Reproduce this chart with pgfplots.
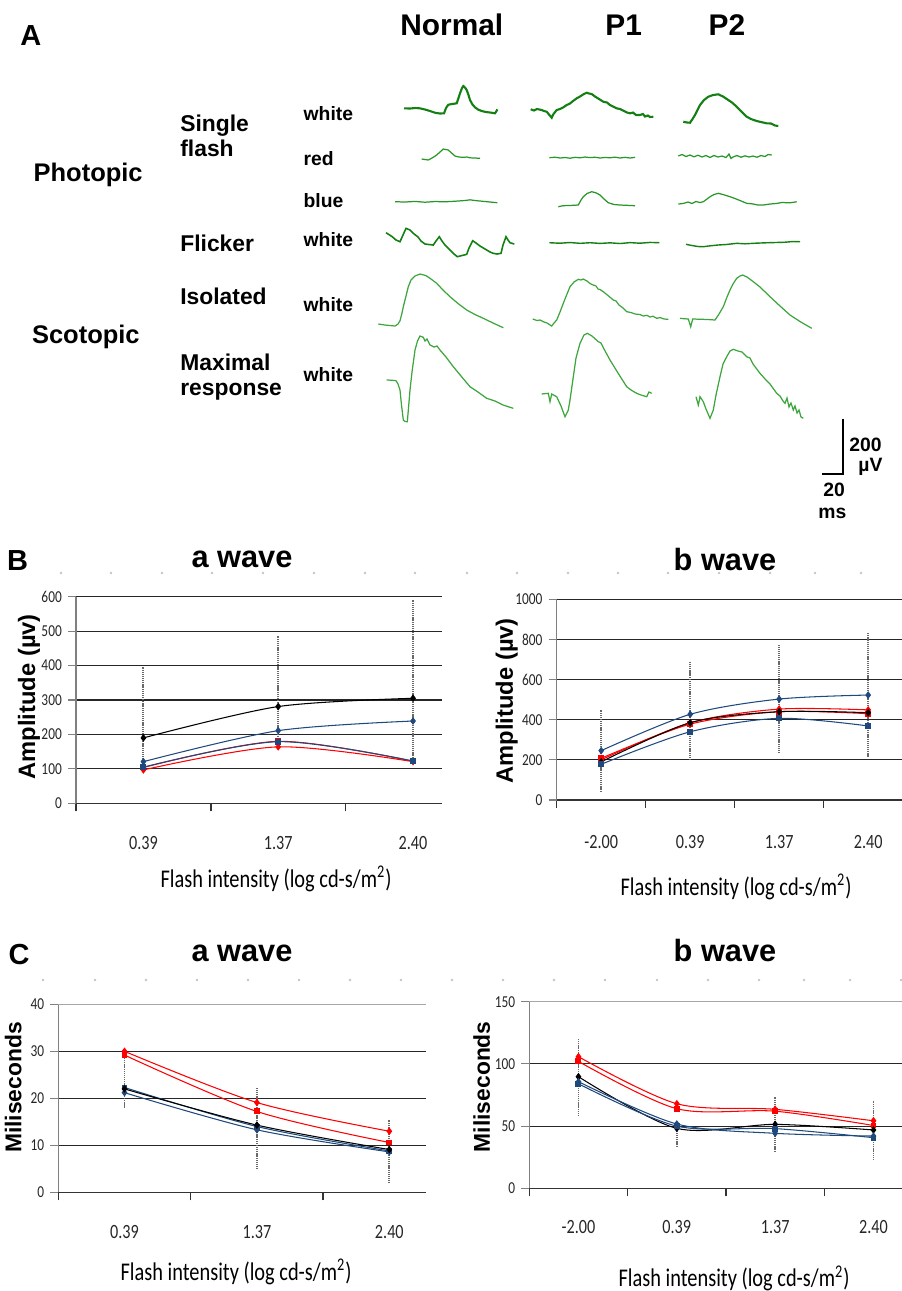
\documentclass[border=0pt]{standalone}
\usepackage{pgfplots}
\pgfplotsset{compat=1.18}
\usepackage{fontspec}
\setmainfont{Liberation Sans}
\newfontfamily\cbr[FakeStretch=0.8]{Carlito}

\definecolor{ergA}{RGB}{20,128,20}
\definecolor{ergB}{RGB}{40,150,40}
\definecolor{ergC}{RGB}{60,165,60}
\definecolor{xlblue}{RGB}{31,73,125}
\definecolor{barg}{RGB}{105,105,105}

\pgfplotsset{
  chart/.style={
    scale only axis,
    axis x line*=bottom, axis y line*=left,
    x axis line style={-, line width=0.8pt, black!80},
    y axis line style={-, line width=0.6pt, gray},
    ymajorgrids, grid style={black!85, line width=0.6pt},
    tick align=outside, major tick length=0.16cm,
    ytick style={gray, line width=0.6pt},
    xtick style={black!80, line width=0.8pt},
    xticklabels={},
    extra x tick style={major tick length=0pt, xtick style={draw=none},
      xticklabel style={anchor=center, font=\cbr\fontsize{11.5}{13}\selectfont, black!85}},
    yticklabel style={font=\cbr\fontsize{9.5}{11}\selectfont, black!85},
    /pgf/number format/assume math mode=true,
    /pgf/number format/1000 sep={},
  },
  sblk/.style={black, mark=diamond*, mark size=1.7pt, line width=0.6pt, smooth},
  sbd/.style={xlblue, mark=diamond*, mark size=1.7pt, line width=0.6pt, smooth},
  sbs/.style={xlblue, mark=square*, mark size=1.4pt, line width=0.6pt, smooth},
  srd/.style={red, mark=diamond*, mark size=1.7pt, line width=0.6pt, smooth},
  srs/.style={red, mark=square*, mark size=1.4pt, line width=0.6pt, smooth},
  serr/.style={barg, line width=1.1pt, dash pattern=on 0.7pt off 0.5pt, mark=none},
}

\begin{document}
\begin{tikzpicture}
\useasboundingbox (0,0) rectangle (18.04cm,-25.82cm);

% ---------- panel A: ERG traces, drawn in pixel units ----------
\begin{axis}[at={(0cm,0cm)}, anchor=north west, scale only axis,
  width=18.04cm, height=25.82cm, xmin=0, xmax=902, ymin=0, ymax=1291,
  y dir=reverse, hide axis, clip=false]

% photopic white
\addplot[ergA, line width=1.2pt, mark=none] coordinates {(404,108.3) (410,108.5) (415,108) (420,108.3) (425,109.5) (430,111) (435,112.7) (440,113.5) (444,113.3) (446,108) (448.3,104.7) (452,104) (456.7,103.3) (458.5,98) (460,93.3) (462,88) (463.3,86) (465,87.5) (466.7,90) (468.5,95) (470,100) (472.5,104.5) (475,107.3) (478,109.5) (481.7,111) (486,112) (491.7,112.7) (495,113.3) (496.5,111) (497.3,109.3)};
\addplot[ergA, line width=1.2pt, mark=none] coordinates {(530.7,109.3) (534,110.5) (537,109) (541.7,110) (544,111) (546.7,111.7) (549,114.5) (551.7,117.7) (553.5,114) (556.7,110) (560,109) (563,107.5) (566.7,105) (570,103.5) (573,101) (576.7,98.3) (580,96.5) (583,94.5) (586.7,92.7) (589,93.5) (591.7,94) (595,96.5) (599,99) (603.3,101.7) (607,102.5) (610,105) (613,106.5) (616.7,108.3) (620,109) (624,111) (627,112.5) (630,113.3) (633,112.5) (636,115) (640,115) (643,114) (645,116.5) (648,115.5) (650,117) (653.3,116.7)};
\addplot[ergA, line width=1.2pt, mark=none] coordinates {(683.3,121.7) (687,122.5) (690,122.7) (692.5,119) (695,115) (697.5,110) (700,105) (704,100) (708.3,96.7) (713,95) (718.3,94.3) (723,96.5) (728.3,100) (732,102.5) (736.7,106.7) (741,111) (746.7,116.7) (751,119) (756.7,121) (761,122) (766.7,123.3) (771,123.5) (775,125.5) (778.3,126)};
% photopic red
\addplot[ergB, line width=0.7pt, mark=none] coordinates {(421.7,159) (425,159.5) (428.3,160) (432,158) (436.7,155) (440,152) (443.3,149) (446,149.5) (448.3,150) (451,152.5) (455,156) (459,157) (463.3,157.3) (467,157) (470,157.8) (475,158) (480,158.3)};
\addplot[ergB, line width=0.7pt, mark=none] coordinates {(549.3,157.7) (555,157.2) (560,158) (565,157.5) (570,158.2) (575,157.3) (580,157.8) (585,157) (590,157.6) (595,157.2) (600,158) (605,157.4) (610,157.8) (615,157.1) (620,158) (625,157.3) (630,158) (635,157.3)};
\addplot[ergB, line width=0.7pt, mark=none] coordinates {(678.3,156) (682,154.5) (686,156.5) (690,155) (694,156.8) (698,155.2) (702,157) (706,155.5) (710,157.5) (714,155.5) (718,157) (722,156) (726,157.5) (729,154) (731,158.5) (733,157) (737,155.5) (741,157.2) (745,155.8) (749,157) (753,156) (757,157.2) (761,155.5) (765,156.5) (768,154.5) (771.7,155)};
% photopic blue
\addplot[ergB, line width=0.7pt, mark=none] coordinates {(395,201.7) (405,202) (415,201.4) (425,202.2) (435,201.5) (445,201.8) (455,201.2) (465,200.5) (470,199.8) (475,200.5) (485,201.5) (497.3,202.7)};
\addplot[ergB, line width=0.7pt, mark=none] coordinates {(558.3,206.7) (563,205.7) (568,205.5) (573,205.3) (578.3,205) (581,200) (583.3,196.7) (587,193.5) (591.7,191.7) (596,192.8) (600,195) (604,199) (608.3,202.7) (614,204.5) (620,205) (627,205.3) (635,205.7)};
\addplot[ergB, line width=0.7pt, mark=none] coordinates {(678.3,204) (683,203.5) (688,202) (692,203.5) (696,201.5) (700,202.5) (703.3,201.7) (707,199) (710,196.7) (714,194.5) (718.3,193.3) (723,194.5) (730,196.7) (735,198.5) (740,200.5) (746.7,203.3) (752,203.8) (758,205) (763.3,205) (770,204) (776,203.5) (782,202.5) (790,202.8) (796.7,201.7)};
% flicker
\addplot[ergA, line width=0.9pt, mark=none] coordinates {(386,232.7) (392,236.5) (396,240) (400,241.7) (403,235) (406,228.3) (410,230) (413.3,233.3) (418,237) (421,241) (425,244) (429,244.5) (433.3,245) (436,241) (439.3,236.7) (442,241) (445,245) (450,250) (454,254) (457.3,256.7) (462,255.5) (466.7,254.3) (469,248) (472.7,240.7) (476,243) (480,246) (485,249) (490,252) (493.3,253.3) (497,254) (501,253.3) (503,245) (506,236.7) (508,240) (510,242.7) (514.3,244)};
\addplot[ergA, line width=0.8pt, mark=none] coordinates {(549.3,242.7) (560,243.2) (570,242.5) (580,243.3) (590,242.7) (600,243.4) (610,242.8) (620,243.5) (630,242.6) (640,243.2) (650,242.4) (659.3,242.7)};
\addplot[ergA, line width=0.8pt, mark=none] coordinates {(686,244.3) (692,245.5) (698,246.5) (703.3,246.7) (710,245.8) (718,245) (726,244.5) (736.7,243.3) (745,243.8) (755,243.2) (765,242.8) (775,242.5) (785,242.2) (793,241.5) (800,241.7)};
% scotopic isolated
\addplot[ergC, line width=0.7pt, mark=none] coordinates {(378.3,324) (385,325) (390,325.5) (395,326) (398,324) (400,320.7) (402,313) (403.3,306.7) (406,296) (408.3,286.7) (411,280) (415,276) (420,274) (424,275) (426.7,276) (431,279) (436.7,283.3) (443,290) (450,296.7) (458,303.5) (466.7,310) (475,314.5) (483.3,318.3) (493,323) (503.3,327.7)};
\addplot[ergC, line width=0.7pt, mark=none] coordinates {(532.7,319) (537,320.5) (540,320) (543.3,321.7) (547,323) (551.7,326) (554,323) (556.7,320) (560,312) (563.3,303.3) (567,294) (570,286.7) (574,282) (578.3,279.3) (581,280) (583.3,279) (587,281) (590,283.5) (593.3,285) (596,286) (598,289) (600,289.5) (603.3,291.7) (608,295.5) (613.3,300) (616,301) (619,305) (623,308) (626.7,311.7) (631,312.5) (635,314) (640,314.5) (643.3,316) (647,315.3) (650,317) (653,316.2) (656.7,318.3) (660,317.5) (664,319) (668.3,319.3)};
\addplot[ergC, line width=0.7pt, mark=none] coordinates {(680,318.3) (684,318.7) (688.3,319) (690.7,326.7) (692.7,319) (700,319.2) (708,319.5) (715,320) (719,314) (723.3,306.7) (727,297) (730,290) (733,284) (736.7,278.3) (740,276) (742.7,275) (747,277) (753.3,281.7) (760,287) (770,296.7) (780,306) (790,315) (800,321.5) (811.7,328.3)};
% scotopic maximal
\addplot[ergC, line width=0.7pt, mark=none] coordinates {(386.7,380) (392,380.2) (396,380.7) (398,384) (400,390) (401.5,405) (403.3,420) (405,421.5) (407.3,421.7) (408.5,408) (410,390) (412,372) (415,350) (417.5,341) (420,336) (423.3,337.3) (425,341) (427,339) (430,345) (434,347) (437,346) (440,350) (446,357) (453.3,366.7) (461,376) (470,386.7) (478,392) (486.7,398.3) (495,401) (503,405) (513.3,408.3)};
\addplot[ergC, line width=0.7pt, mark=none] coordinates {(541.7,394) (545,393.6) (548.3,393.3) (550,401.7) (551.7,394) (556.7,396.7) (561,406) (565,416.7) (568.3,410) (570,400) (573.3,376.7) (576,358) (580,343.3) (584,335) (587.3,333.3) (592,336) (598.3,341.7) (601,343) (604,349) (610,360) (618,373) (626.7,386.7) (631,390) (636.7,393.3) (641,395) (646.7,396.7) (649,392) (651.7,393.3)};
\addplot[ergC, line width=0.7pt, mark=none] coordinates {(696,396.7) (698.3,405) (700,396.7) (703.3,401.7) (706,409) (710,418.3) (713.3,410) (716,395) (720,376.7) (723,364) (726.7,356.7) (730,351) (733.3,349.3) (738,351) (742,352) (746.7,356.7) (750,358) (753,364) (760,373.3) (766,380) (770,384) (776.7,393.3) (780,396) (783,401) (785,403.3) (787,398) (789,407) (791,403) (793.3,410) (795,406) (797,413) (799,410) (801,417) (803.3,418.3)};
% scale bar
\addplot[black, line width=0.8pt, mark=none] coordinates {(843,419) (843,474) (822.3,474)};
% faint dots above the charts
\addplot[only marks, mark=*, mark size=0.45pt, gray!45] coordinates {(61,573) (111,573) (162,573) (212,573) (263,573) (314,573) (365,573) (415,573) (467,573) (517,573) (568,573) (618,573) (668,573) (719,573) (770,573) (815,573) (861,573) (43,980) (95,980) (146,980) (197,980) (248,980) (299,980) (350,980) (401,980) (452,980) (503,980) (554,980) (605,980) (657,980) (708,980) (759,980) (804,980) (850,980) (901,980)};

% texts of panel A
\node[anchor=base west, inner sep=0, font=\bfseries\fontsize{16.5}{18}\selectfont] at (20,45) {A};
\node[anchor=base west, inner sep=0, font=\bfseries\fontsize{17}{19}\selectfont] at (400,35) {Normal};
\node[anchor=base west, inner sep=0, font=\bfseries\fontsize{17}{19}\selectfont] at (605,35) {P1};
\node[anchor=base west, inner sep=0, font=\bfseries\fontsize{17}{19}\selectfont] at (708.3,35) {P2};
\node[anchor=base west, inner sep=0, font=\bfseries\fontsize{14.5}{16}\selectfont] at (33.3,181.7) {Photopic};
\node[anchor=base west, inner sep=0, font=\bfseries\fontsize{14.5}{16}\selectfont] at (31.7,343.3) {Scotopic};
\node[anchor=base west, inner sep=0, font=\bfseries\fontsize{13}{15}\selectfont] at (180,131.7) {Single};
\node[anchor=base west, inner sep=0, font=\bfseries\fontsize{13}{15}\selectfont] at (180,156.7) {flash};
\node[anchor=base west, inner sep=0, font=\bfseries\fontsize{13}{15}\selectfont] at (180,251.7) {Flicker};
\node[anchor=base west, inner sep=0, font=\bfseries\fontsize{13}{15}\selectfont] at (180,304) {Isolated};
\node[anchor=base west, inner sep=0, font=\bfseries\fontsize{13}{15}\selectfont] at (180,370) {Maximal};
\node[anchor=base west, inner sep=0, font=\bfseries\fontsize{13}{15}\selectfont] at (180,395) {response};
\node[anchor=base west, inner sep=0, font=\bfseries\fontsize{11}{13}\selectfont] at (303.3,120) {white};
\node[anchor=base west, inner sep=0, font=\bfseries\fontsize{11}{13}\selectfont] at (303.3,165.7) {red};
\node[anchor=base west, inner sep=0, font=\bfseries\fontsize{11}{13}\selectfont] at (303.3,207.3) {blue};
\node[anchor=base west, inner sep=0, font=\bfseries\fontsize{11}{13}\selectfont] at (303.3,246) {white};
\node[anchor=base west, inner sep=0, font=\bfseries\fontsize{11}{13}\selectfont] at (303.3,311.7) {white};
\node[anchor=base west, inner sep=0, font=\bfseries\fontsize{11}{13}\selectfont] at (303.3,381) {white};
\node[anchor=base west, inner sep=0, font=\bfseries\fontsize{11}{13}\selectfont] at (849,451.7) {200};
\node[anchor=base west, inner sep=0, font=\bfseries\fontsize{11}{13}\selectfont] at (858,471) {µV};
\node[anchor=base west, inner sep=0, font=\bfseries\fontsize{11}{13}\selectfont] at (823,496.7) {20};
\node[anchor=base west, inner sep=0, font=\bfseries\fontsize{11}{13}\selectfont] at (818,518) {ms};

% titles and labels of panels B and C
\node[anchor=base west, inner sep=0, font=\bfseries\fontsize{16.5}{18}\selectfont] at (6.7,570) {B};
\node[anchor=base west, inner sep=0, font=\bfseries\fontsize{16.5}{18}\selectfont] at (8.3,964) {C};
\node[anchor=base, inner sep=0, font=\bfseries\fontsize{17.5}{19}\selectfont] at (242,567) {a wave};
\node[anchor=base, inner sep=0, font=\bfseries\fontsize{17.5}{19}\selectfont] at (725,570) {b wave};
\node[anchor=base, inner sep=0, font=\bfseries\fontsize{17.5}{19}\selectfont] at (242,961.7) {a wave};
\node[anchor=base, inner sep=0, font=\bfseries\fontsize{17.5}{19}\selectfont] at (725,961) {b wave};
\node[rotate=90, inner sep=0, font=\bfseries\fontsize{13.5}{15}\selectfont] at (29,696.7) {Amplitude (µv)};
\node[rotate=90, inner sep=0, font=\bfseries\fontsize{13.5}{15}\selectfont] at (506.7,700.8) {Amplitude (µv)};
\node[rotate=90, inner sep=0, font=\bfseries\fontsize{13}{15}\selectfont] at (13.3,1087.5) {Miliseconds};
\node[rotate=90, inner sep=0, font=\bfseries\fontsize{13}{15}\selectfont] at (481.7,1086.7) {Miliseconds};
\node[anchor=base, inner sep=0, font=\cbr\fontsize{14.5}{16}\selectfont] at (276,887) {Flash intensity (log cd-s/m\textsuperscript{2})};
\node[anchor=base, inner sep=0, font=\cbr\fontsize{14.5}{16}\selectfont] at (736,895) {Flash intensity (log cd-s/m\textsuperscript{2})};
\node[anchor=base, inner sep=0, font=\cbr\fontsize{14.5}{16}\selectfont] at (236,1280) {Flash intensity (log cd-s/m\textsuperscript{2})};
\node[anchor=base, inner sep=0, font=\cbr\fontsize{14.5}{16}\selectfont] at (734,1286.7) {Flash intensity (log cd-s/m\textsuperscript{2})};
\end{axis}

% ---------- B: a wave amplitude ----------
\begin{axis}[chart, at={(1.52cm,-16.066cm)}, anchor=south west,
  width=7.32cm, height=4.132cm, xmin=0.5, xmax=3.215, ymin=0, ymax=600,
  ytick={0,100,...,600}, xtick={0.5,1.5,2.5},
  extra x ticks={1,2,3}, extra x tick labels={0.39,1.37,2.40},
  extra x tick style={xticklabel style={yshift=-0.794cm}}]
\addplot[serr] coordinates {(1,97) (1,397)};
\addplot[serr] coordinates {(2,180) (2,487)};
\addplot[serr] coordinates {(3,120) (3,591)};
\addplot[sblk] coordinates {(1,190) (2,281) (3,305)};
\addplot[sbd] coordinates {(1,121) (2,211) (3,239)};
\addplot[srs] coordinates {(1,104) (2,180) (3,122)};
\addplot[srd] coordinates {(1,97) (2,164) (3,121)};
\addplot[sbs] coordinates {(1,105) (2,179) (3,123)};
\end{axis}

% ---------- B: b wave amplitude ----------
\begin{axis}[chart, at={(11.134cm,-16.0cm)}, anchor=south west,
  width=6.906cm, height=4.014cm, xmin=0.5, xmax=4.38, ymin=0, ymax=1000,
  ytick={0,200,...,1000}, xtick={0.5,1.5,2.5,3.5},
  extra x ticks={1,2,3,4}, extra x tick labels={-2.00,0.39,1.37,2.40},
  extra x tick style={xticklabel style={yshift=-0.834cm}}]
\addplot[serr] coordinates {(1,41) (1,449)};
\addplot[serr] coordinates {(2,199) (2,689)};
\addplot[serr] coordinates {(3,233) (3,772)};
\addplot[serr] coordinates {(4,216) (4,831)};
\addplot[sbd] coordinates {(1,246) (2,427) (3,503) (4,523)};
\addplot[srd] coordinates {(1,200) (2,385) (3,453) (4,449)};
\addplot[srs] coordinates {(1,208) (2,378) (3,440) (4,430)};
\addplot[sblk] coordinates {(1,190) (2,385) (3,440) (4,435)};
\addplot[sbs] coordinates {(1,178) (2,340) (3,407) (4,369)};
\end{axis}

% ---------- C: a wave implicit time ----------
\begin{axis}[chart, at={(1.166cm,-23.846cm)}, anchor=south west,
  width=7.354cm, height=3.76cm, xmin=0.5, xmax=3.277, ymin=0, ymax=40,
  ytick={0,10,20,30}, extra y ticks={40}, extra y tick style={grid style={gray!70, line width=0.6pt}},
  xtick={0.5,1.5,2.5},
  extra x ticks={1,2,3}, extra x tick labels={0.39,1.37,2.40},
  extra x tick style={xticklabel style={yshift=-0.804cm}}]
\addplot[serr] coordinates {(1,18) (1,30)};
\addplot[serr] coordinates {(2,4.9) (2,22.1)};
\addplot[serr] coordinates {(3,1.9) (3,15.4)};
\addplot[srd] coordinates {(1,30) (2,19.1) (3,13.0)};
\addplot[srs] coordinates {(1,29.2) (2,17.2) (3,10.6)};
\addplot[sbd] coordinates {(1,21.2) (2,13.3) (3,8.6)};
\addplot[sbs] coordinates {(1,22.3) (2,14.0) (3,8.8)};
\addplot[sblk] coordinates {(1,22) (2,14.3) (3,9.1)};
\end{axis}

% ---------- C: b wave implicit time ----------
\begin{axis}[chart, at={(10.586cm,-23.766cm)}, anchor=south west,
  width=7.454cm, height=3.732cm, xmin=0.5, xmax=4.29, ymin=0, ymax=150,
  ytick={0,50,100}, extra y ticks={150}, extra y tick style={grid style={gray!70, line width=0.6pt}},
  xtick={0.5,1.5,2.5,3.5},
  extra x ticks={1,2,3,4}, extra x tick labels={-2.00,0.39,1.37,2.40},
  extra x tick style={xticklabel style={yshift=-0.784cm}}]
\addplot[serr] coordinates {(1,58) (1,119.8)};
\addplot[serr] coordinates {(2,33.4) (2,52)};
\addplot[serr] coordinates {(3,29.4) (3,73.6)};
\addplot[serr] coordinates {(4,22.7) (4,70.2)};
\addplot[srd] coordinates {(1,105.8) (2,68) (3,63.5) (4,54.3)};
\addplot[srs] coordinates {(1,102) (2,64) (3,62) (4,50.5)};
\addplot[sblk] coordinates {(1,89.7) (2,48.2) (3,51.4) (4,46.9)};
\addplot[sbd] coordinates {(1,85.7) (2,51.7) (3,44.2) (4,42)};
\addplot[sbs] coordinates {(1,84) (2,50) (3,48) (4,40.7)};
\end{axis}
\end{tikzpicture}
\end{document}
